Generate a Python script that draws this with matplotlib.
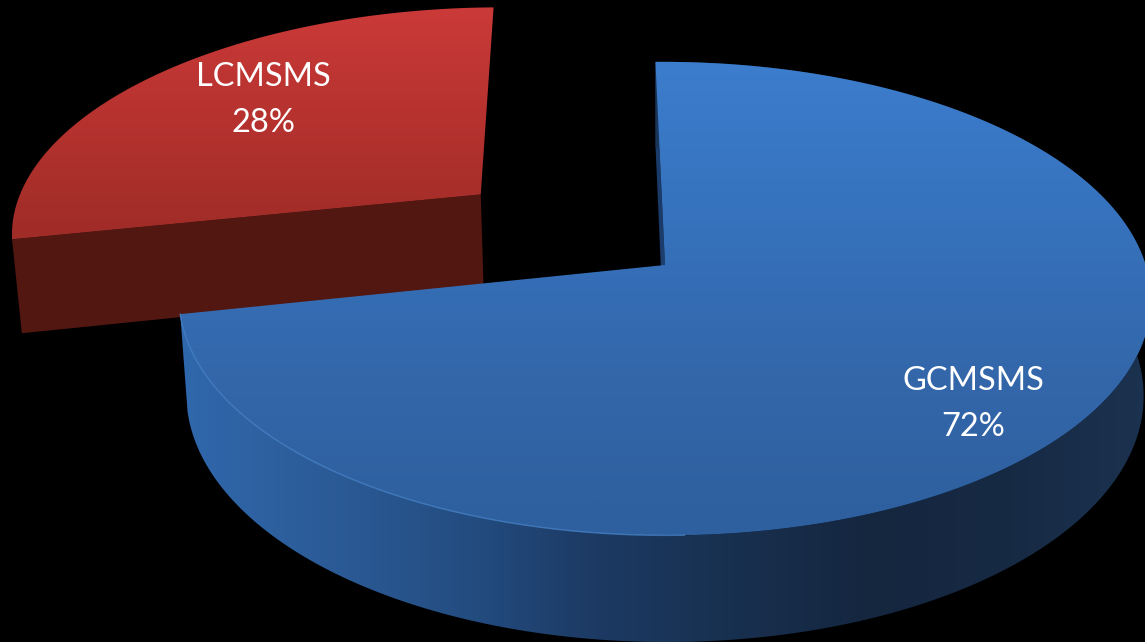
import numpy as np
import matplotlib
matplotlib.use("Agg")
import matplotlib.pyplot as plt
from matplotlib.colors import LinearSegmentedColormap
from matplotlib.patches import Polygon

labels = ["GCMSMS", "LCMSMS"]
values = [72, 28]
explode = [0.0, 0.51]

start_angle = 91.3

# projection of the pie disk onto the canvas (pixels)
cx, cy = 665, 265
rx, ry = 481, 232
persp = 0.142
tilt = 1
depth = 95
bottom_scale = 0.985


def project(u, v, lower=False):
    w = 1 + persp * v
    s = bottom_scale if lower else 1.0
    x = cx + s * rx * u / w
    y = cy - s * ry * v / w + tilt * u
    if lower:
        y = y + depth / w
    return np.column_stack([x, y])


def disk_points(a0, a1, off):
    t = np.radians(np.linspace(a0, a1, 300))
    return np.cos(t) + off[0], np.sin(t) + off[1]


def gradient_fill(ax, poly, stops, vertical=True, zorder=1):
    # fill a polygon with a linear gradient clipped to its outline
    cmap = LinearSegmentedColormap.from_list("g", stops)
    ramp = np.linspace(0, 1, 512)
    if vertical:
        img = ramp.reshape(-1, 1)
        lo, hi = poly[:, 1].min(), poly[:, 1].max()
        extent = [poly[:, 0].min(), poly[:, 0].max(), hi, lo]
    else:
        img = ramp.reshape(1, -1)
        lo, hi = poly[:, 0].min(), poly[:, 0].max()
        extent = [lo, hi, poly[:, 1].max(), poly[:, 1].min()]
    im = ax.imshow(img, cmap=cmap, extent=extent, origin="upper", aspect="auto",
                   interpolation="bilinear", zorder=zorder)
    patch = Polygon(poly, closed=True, transform=ax.transData, fc="none", ec="none")
    ax.add_patch(patch)
    im.set_clip_path(patch)


fig = plt.figure(figsize=(11.45, 6.42), dpi=100, facecolor="black")
ax = fig.add_axes([0, 0, 1, 1])
ax.set_facecolor("black")
ax.axis("off")

# slice angles, clockwise from the top
total = sum(values)
sweeps = [360.0 * val / total for val in values]
blue_end = start_angle - sweeps[0]
red_end = blue_end - sweeps[1]

# red slice, pulled out along its middle angle
mid = np.radians((blue_end + red_end) / 2)
off = (explode[1] * np.cos(mid), explode[1] * np.sin(mid))
u, v = disk_points(blue_end, red_end, off)
red_rim = project(u, v)
red_apex = project(np.array([off[0]]), np.array([off[1]]))
red_apex_low = project(np.array([off[0]]), np.array([off[1]]), lower=True)
red_rim_low = project(u, v, lower=True)

red_face = np.vstack([red_apex, red_rim[0], red_rim_low[0], red_apex_low])
ax.add_patch(Polygon(red_face, closed=True, fc="#521711", ec="none", zorder=1))
gradient_fill(ax, np.vstack([red_apex, red_rim]), ["#ca3a38", "#b5322f", "#9f2c27"], zorder=2)

# blue slice
u, v = disk_points(start_angle, blue_end, (0, 0))
blue_rim = project(u, v)
blue_apex = project(np.array([0.0]), np.array([0.0]))
blue_apex_low = project(np.array([0.0]), np.array([0.0]), lower=True)

# inner wall behind the top edge
inner = np.vstack([blue_rim[0], blue_apex, blue_apex_low, project(u[:1], v[:1], lower=True)])
gradient_fill(ax, inner, ["#1d3f70", "#1a3a68", "#214a80"], zorder=3)

# outer wall of the ring
wall_top = project(u, v)
wall_low = project(u, v, lower=True)
wall = np.vstack([wall_top, wall_low[::-1]])
gradient_fill(ax, wall,
              ["#3068ad", "#2c5c98", "#244e83", "#1c3a63", "#18304f", "#15263f", "#172a44", "#1b3250"],
              vertical=False, zorder=4)

gradient_fill(ax, np.vstack([blue_apex, blue_rim]),
              ["#3c7dcd", "#3672bd", "#3367aa", "#2e5f9e"], zorder=5)

# light edge along the near left of the rim
u3, v3 = disk_points(blue_end, -88, (0, 0))
edge = project(u3, v3)
ax.plot(edge[:, 0], edge[:, 1], color="#4a88cf", lw=1.0, alpha=0.75, zorder=6)

# text labels
ax.text(973, 404, f"{labels[0]}\n{values[0]}%", color="white", family="Lato", fontsize=23.5,
        ha="center", va="center", linespacing=1.68, zorder=7)
ax.text(263, 100, f"{labels[1]}\n{values[1]}%", color="white", family="Lato", fontsize=23.5,
        ha="center", va="center", linespacing=1.68, zorder=7)

ax.set_xlim(0, 1145)
ax.set_ylim(642, 0)

fig.savefig("out.png", dpi=100, facecolor="black")
